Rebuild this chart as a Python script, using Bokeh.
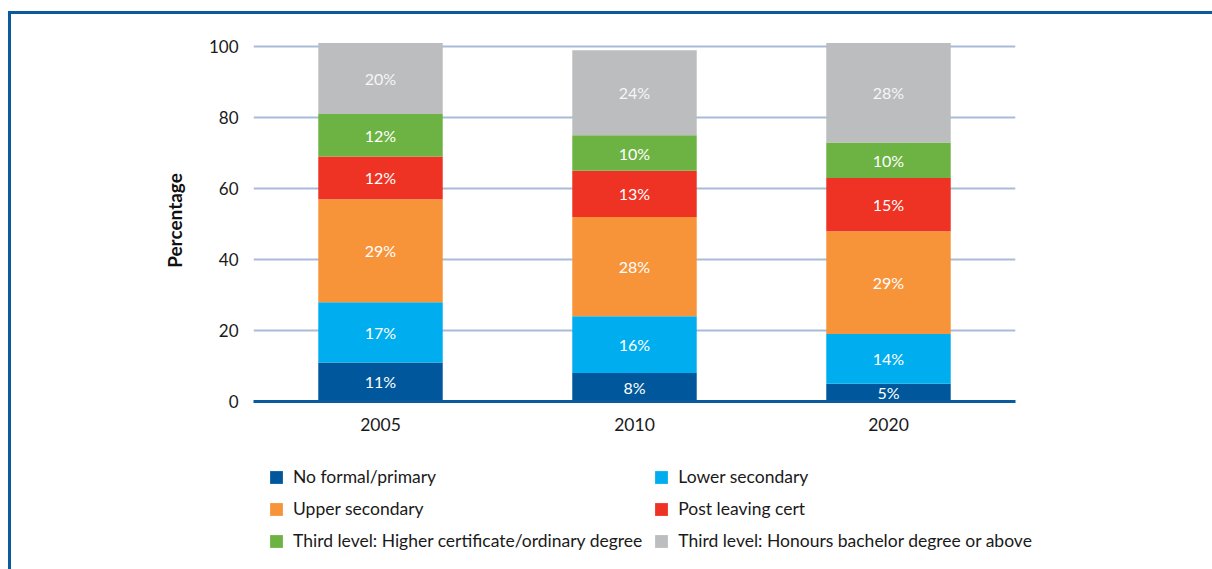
from bokeh.plotting import figure
from bokeh.layouts import column
from bokeh.models import (ColumnDataSource, Legend, LegendItem, FixedTicker,
                          InlineStyleSheet, Range1d)
from bokeh.core.properties import value
from bokeh.embed import file_html
from bokeh.resources import INLINE

years = ["2005", "2010", "2020"]
categories = [
    "No formal/primary",
    "Lower secondary",
    "Upper secondary",
    "Post leaving cert",
    "Third level: Higher certificate/ordinary degree",
    "Third level: Honours bachelor degree or above",
]
keys = ["nofp", "lows", "upps", "plc", "hcert", "hons"]
no_formal = [11, 8, 5]
lower_sec = [17, 16, 14]
upper_sec = [29, 28, 29]
post_lc = [12, 13, 15]
higher_cert = [12, 10, 10]
honours = [20, 24, 28]
colors = ["#00579b", "#00aeef", "#f7943a", "#ee3224", "#6db344", "#bcbdbf"]
label_colors = ["#ffffff", "#ffffff", "#ffffff", "#ffffff", "#ffffff", "#f6f6f6"]
yticks = [0, 20, 40, 60, 80, 100]

FONT = "Lato"
BLUE = "#0a5a9e"
series = [no_formal, lower_sec, upper_sec, post_lc, higher_cert, honours]
data = {"year": years}
for k, s in zip(keys, series):
    data[k] = s
source = ColumnDataSource(data)

W = 1212
H_MAIN = 445
H_LEG = 124

p = figure(x_range=years, y_range=(0, 102), width=W, height=H_MAIN,
           output_backend="svg", toolbar_location=None,
           min_border_left=253, min_border_right=W - 1015,
           min_border_top=39, min_border_bottom=44)

renderers = p.vbar_stack(keys, x="year", width=0.49, color=colors, source=source,
                         line_color=None)

# segment labels
bottoms = [0, 0, 0]
for k, s, lc in zip(keys, series, label_colors):
    mids = [b + v / 2 for b, v in zip(bottoms, s)]
    lsrc = ColumnDataSource(dict(x=years, y=mids, t=[f"{v}%" for v in s]))
    p.text(x="x", y="y", text="t", source=lsrc, text_align="center",
           text_baseline="middle", text_color=lc, text_font=value(FONT),
           text_font_size="16px")
    bottoms = [b + v for b, v in zip(bottoms, s)]

# axes
p.xgrid.grid_line_color = None
p.ygrid.grid_line_color = "#a9bbd8"
p.ygrid.grid_line_width = 2
p.yaxis.ticker = FixedTicker(ticks=yticks)
p.yaxis.axis_line_color = None
p.yaxis.major_tick_line_color = None
p.yaxis.minor_tick_line_color = None
p.yaxis.major_label_text_font = FONT
p.yaxis.major_label_text_font_size = "17px"
p.yaxis.major_label_text_color = "#1a1a1a"
p.yaxis.major_label_standoff = 9
p.yaxis.axis_label = "Percentage"
p.yaxis.axis_label_text_font = FONT
p.yaxis.axis_label_text_font_style = "bold"
p.yaxis.axis_label_text_font_size = "19px"
p.yaxis.axis_label_text_color = "#111111"
p.yaxis.axis_label_standoff = 20

p.xaxis.axis_line_color = BLUE
p.xaxis.axis_line_width = 3
p.xaxis.major_tick_line_color = None
p.xaxis.minor_tick_line_color = None
p.xaxis.major_label_text_font = FONT
p.xaxis.major_label_text_font_size = "17.5px"
p.xaxis.major_label_text_color = "#1a1a1a"
p.xaxis.major_label_standoff = 10
p.outline_line_color = None

# legend figure (two columns)
pl = figure(x_range=Range1d(0, 1), y_range=Range1d(0, 1), width=W, height=H_LEG,
            output_backend="svg", toolbar_location=None,
            min_border_left=0, min_border_right=0, min_border_top=0,
            min_border_bottom=0, x_axis_type=None, y_axis_type=None)
pl.frame_align = False
p.frame_align = False
pl.grid.grid_line_color = None
pl.outline_line_color = None
dummy = []
for c in colors:
    # legend swatches only: placed outside the visible range
    dummy.append(pl.vbar(x=[-10], top=[-10], width=0.1, fill_color=c, line_color=None))
order = [0, 2, 4, 1, 3, 5]
items = [LegendItem(label=categories[i], renderers=[dummy[i]]) for i in order]
legend = Legend(items=items, location=(268, 18), ncols=2,
                glyph_width=16, glyph_height=16, label_height=16,
                label_standoff=9, spacing=11, padding=0, margin=0,
                border_line_color=None, background_fill_alpha=0,
                label_text_font=FONT, label_text_font_size="17.5px",
                label_text_color="#1a1a1a")
pl.add_layout(legend, "center")

# frame border (top and left) drawn on the page
p.stylesheets = [InlineStyleSheet(css="""
:host { position: relative; }
:host::after {
  content: ""; position: absolute; left: 8px; top: 11px; right: 0; bottom: 0;
  border-top: 3px solid #0a5a9e; border-left: 3px solid #0a5a9e;
  pointer-events: none; z-index: 10;
}
""")]
pl.stylesheets = [InlineStyleSheet(css="""
:host { position: relative; }
:host::after {
  content: ""; position: absolute; left: 8px; top: 0; right: 0; bottom: 0;
  border-left: 3px solid #0a5a9e;
  pointer-events: none; z-index: 10;
}
""")]

layout = column(p, pl, spacing=0)
open("out.html", "w").write(file_html(layout, INLINE))
